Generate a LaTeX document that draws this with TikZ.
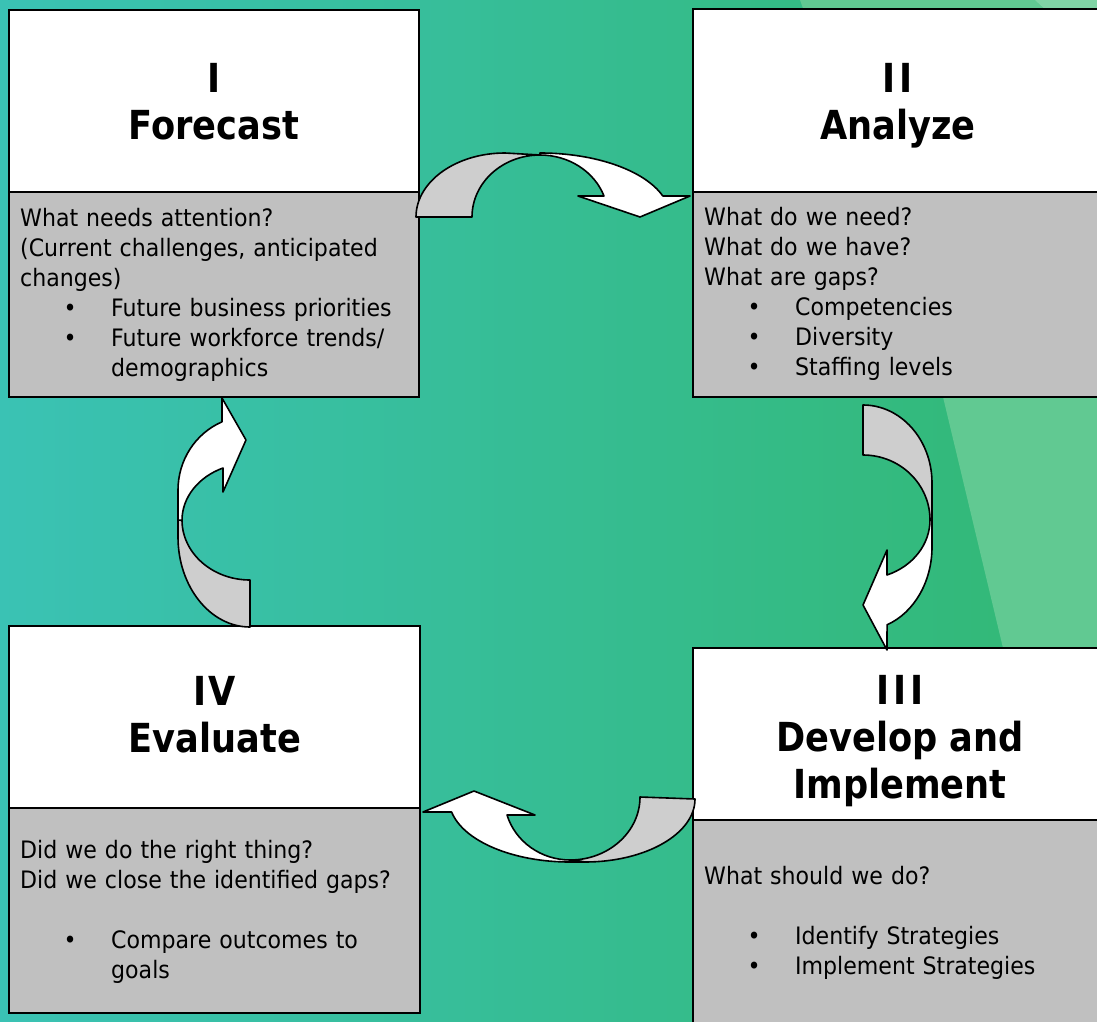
\documentclass[tikz,border=0pt]{standalone}
\usepackage{fontspec}
\setmainfont{DejaVu Sans}[FakeStretch=0.92]
\newfontfamily\headfont{DejaVu Sans}[FakeStretch=0.88]
\usepackage{xcolor}
\usepackage{tikz}

\definecolor{bgleft}{RGB}{58,194,180}
\definecolor{bgmid}{RGB}{56,189,150}
\definecolor{bgright}{RGB}{50,184,115}
\definecolor{bglight}{RGB}{97,201,146}
\definecolor{bglighter}{RGB}{128,212,165}
\definecolor{boxgray}{RGB}{192,192,192}
\definecolor{arrowgray}{RGB}{206,206,206}

% bullet lines: dot at 50pt, text at 91pt from the left edge
\newcommand{\bul}{\hspace*{43.5pt}\makebox[47.5pt][l]{\textbullet}}
\newcommand{\ind}{\hspace*{91pt}}
\newcommand{\firstline}{\rule{0pt}{20pt}}

\tikzset{
  boxhead/.style={draw, fill=white, line width=1.6pt, anchor=north west,
    minimum width=410pt, inner sep=0pt, outer sep=0pt},
  boxbody/.style={draw, fill=boxgray, line width=1.6pt, anchor=north west,
    minimum width=410pt, inner sep=0pt, outer sep=0pt},
  boxtitle/.style={anchor=north, inner sep=0pt, align=center,
    font=\headfont\bfseries\fontsize{40}{47}\selectfont},
  boxtext/.style={anchor=north west, inner sep=0pt, text width=395pt,
    align=left, font=\fontsize{24}{30}\selectfont},
  arrowback/.style={draw, fill=arrowgray, line width=1.6pt, line join=round},
  arrowfront/.style={draw, fill=white, line width=1.6pt, line join=round}
}

\begin{document}
\begin{tikzpicture}[x=1pt, y=-1pt]
	 \clip (0,0) rectangle (1097,1022);
	 \shade[left color=bgleft, middle color=bgmid, right color=bgright] (0,0) rectangle (1097,1022);
	 \fill[bglight] (800,0) -- (943,397) -- (1003,648) -- (1095,1022) -- (1097,1022) -- (1097,0) -- cycle;
	 \fill[bglighter] (1035,0) -- (1097,0) -- (1097,12) -- (1048,12) -- cycle;

	 % I
	 \node[boxhead, minimum height=182pt] (foreHead) at (9,10) {};
	 \node[boxbody, minimum height=205pt] (foreBody) at (foreHead.south west) {};
	 \node[boxtitle] (foreTitle) at (214,63) {I\\Forecast};
	 \node[boxtext] (foreText) at ([shift={(11,14)}]foreBody.north west)
	   {\firstline What needs attention?\\
	    (Current challenges, anticipated\\
	    changes)\\
	    \bul Future business priorities\\
	    \bul Future workforce trends/\\
	    \ind demographics};

	 % II
	 \node[boxhead, minimum height=183pt] (anaHead) at (693,9) {};
	 \node[boxbody, minimum height=205pt] (anaBody) at (anaHead.south west) {};
	 \node[boxtitle] (anaTitle) at (898,63) {I\kern4pt I\\Analyze};
	 \node[boxtext] (anaText) at ([shift={(11,13)}]anaBody.north west)
	   {\firstline What do we need?\\
	    What do we have?\\
	    What are gaps?\\
	    \bul Competencies\\
	    \bul Diversity\\
	    \bul Staffing levels};

	 % III
	 \node[boxhead, minimum height=172pt] (devHead) at (693,648) {};
	 \node[boxbody, minimum height=220pt] (devBody) at (devHead.south west) {};
	 \node[boxtitle] (devTitle) at (900,675) {I\kern4pt I\kern4pt I\\Develop and\\Implement};
	 \node[boxtext] (devText) at ([shift={(11,44)}]devBody.north west)
	   {\firstline What should we do?\\
	    \mbox{}\\
	    \bul Identify Strategies\\
	    \bul Implement Strategies};

	 % IV
	 \node[boxhead, minimum height=182pt, minimum width=411pt] (evalHead) at (9,626) {};
	 \node[boxbody, minimum height=205pt, minimum width=411pt] (evalBody) at (evalHead.south west) {};
	 \node[boxtitle] (evalTitle) at (215,676) {I\kern2pt V\\Evaluate};
	 \node[boxtext] (evalText) at ([shift={(11,30)}]evalBody.north west)
	   {\firstline Did we do the right thing?\\
	    Did we close the identified gaps?\\
	    \mbox{}\\
	    \bul Compare outcomes to\\
	    \ind goals};

	 % I -> II
	 \draw[arrowback] (416,217) -- (472,217) arc[start angle=180, end angle=90, x radius=68pt, y radius=62pt] -- (505,153) arc[start angle=90, end angle=180, x radius=89pt, y radius=64pt] -- cycle;
	 \draw[arrowfront] (540,153) arc[start angle=90, end angle=19.2, x radius=130pt, y radius=64pt] -- (690,196) -- (640,217) -- (578,196) -- (604,196) arc[start angle=19.8, end angle=90, x radius=68pt, y radius=62pt] -- cycle;
	 % II -> III
	 \draw[arrowback] (863,405) -- (863,455) arc[start angle=90, end angle=0, x radius=67pt, y radius=65pt] -- (932,520) -- (932,483) arc[start angle=0, end angle=90, x radius=69pt, y radius=78pt] -- cycle;
	 \draw[arrowfront] (932,520) -- (932,547) arc[start angle=0, end angle=-69.6, x radius=69pt, y radius=83pt] -- (887,650) -- (863,605) -- (887,550) -- (887,575) arc[start angle=-69, end angle=0, x radius=67pt, y radius=59pt] -- cycle;
	 % III -> IV
	 \draw[arrowback] (640,797) arc[start angle=0, end angle=-90, x radius=70pt, y radius=63pt] -- (585,862) arc[start angle=-90, end angle=0, x radius=110pt, y radius=63pt] -- cycle;
	 \draw[arrowfront] (585,862) -- (570,862) arc[start angle=270, end angle=191.9, x radius=121pt, y radius=63pt] -- (423,812) -- (474,791) -- (535,815) -- (507,815) arc[start angle=196.6, end angle=270, x radius=66pt, y radius=63pt] -- cycle;
	 % IV -> I
	 \draw[arrowback] (250,580) arc[start angle=-90, end angle=-180, x radius=68pt, y radius=60pt] -- (178,520) -- (178,537) arc[start angle=180, end angle=270, x radius=72pt, y radius=90pt] -- cycle;
	 \draw[arrowfront] (178,520) -- (178,490) arc[start angle=180, end angle=112.9, x radius=72pt, y radius=74pt] -- (222,398) -- (246,440) -- (223,492) -- (223,468) arc[start angle=113.4, end angle=180, x radius=68pt, y radius=57pt] -- cycle;
\end{tikzpicture}
\end{document}
